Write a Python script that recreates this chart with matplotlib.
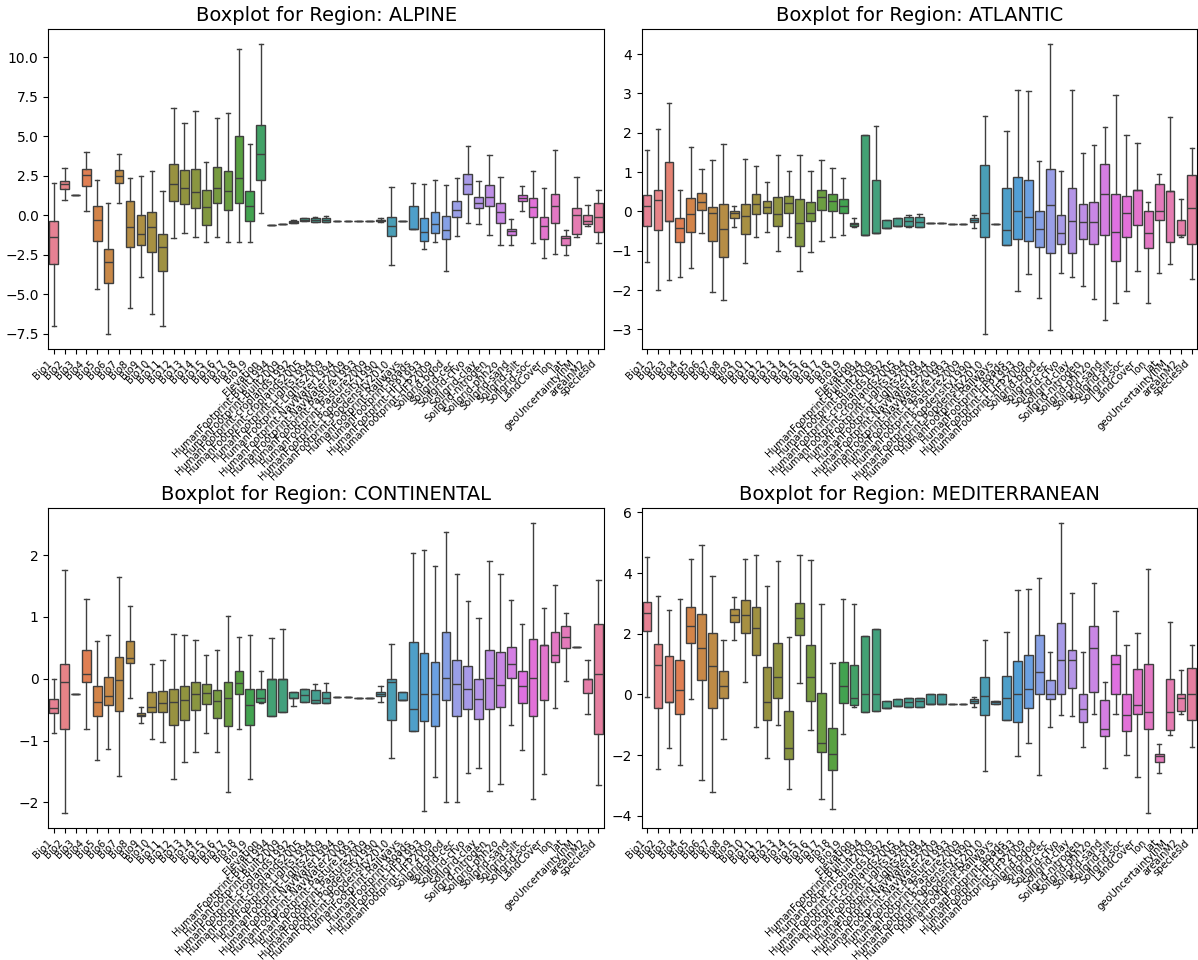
import colorsys
import matplotlib
matplotlib.use("Agg")
import matplotlib.pyplot as plt
import seaborn as sns

columns = ["Bio%d" % i for i in range(1, 20)] + [
    "Elevation",
    "HumanFootprint-Built1994", "HumanFootprint-Built2009",
    "HumanFootprint-croplands1992", "HumanFootprint-croplands2005",
    "HumanFootprint-Lights1994", "HumanFootprint-Lights2009",
    "HumanFootprint-NavWater1994", "HumanFootprint-NavWater2009",
    "HumanFootprint-Pasture1993", "HumanFootprint-Pasture2009",
    "HumanFootprint-Popdensity1990", "HumanFootprint-Popdensity2010",
    "HumanFootprint-Railways", "HumanFootprint-Roads",
    "HumanFootprint-HFP1993", "HumanFootprint-HFP2009",
    "Soilgrid-bdod", "Soilgrid-cec", "Soilgrid-cfvo", "Soilgrid-clay",
    "Soilgrid-nitrogen", "Soilgrid-phh2o", "Soilgrid-sand", "Soilgrid-silt",
    "Soilgrid-soc", "LandCover", "lon", "lat", "geoUncertaintyInM",
    "areaInM2", "speciesId",
]

# (whisker low, q1, median, q3, whisker high) per column
alpine = [
    (-7.02, -3.07, -1.40, -0.38, 2.03), (0.97, 1.65, 1.95, 2.18, 3.00),
    (1.25, 1.25, 1.25, 1.25, 1.25), (0.25, 1.86, 2.54, 2.92, 4.02),
    (-4.65, -1.63, -0.30, 0.55, 2.20), (-7.53, -4.31, -2.96, -2.16, 0.80),
    (0.76, 2.03, 2.47, 2.88, 3.89), (-5.88, -2.03, -0.76, 0.87, 2.33),
    (-3.89, -1.86, -1.18, -0.02, 2.45), (-6.28, -2.35, -0.76, 0.23, 2.79),
    (-7.02, -3.51, -2.03, -1.18, 1.56), (-1.46, 0.87, 1.97, 3.21, 6.77),
    (-1.14, 0.70, 1.69, 2.83, 5.81), (-1.40, 0.44, 1.46, 2.92, 6.60),
    (-1.69, -0.63, 0.49, 1.61, 3.34), (-1.40, 0.76, 1.71, 3.02, 6.13),
    (-1.69, 0.34, 1.50, 2.77, 6.45), (-1.69, 0.78, 2.35, 4.99, 10.51),
    (-1.69, -0.38, 0.57, 1.56, 4.52), (0.13, 2.24, 3.85, 5.73, 10.87),
    (-0.63, -0.63, -0.63, -0.63, -0.63), (-0.55, -0.55, -0.55, -0.55, -0.55),
    (-0.52, -0.47, -0.42, -0.38, -0.32), (-0.40, -0.38, -0.30, -0.21, -0.15),
    (-0.42, -0.42, -0.28, -0.17, -0.09), (-0.42, -0.42, -0.30, -0.16, -0.07),
    (-0.34, -0.34, -0.34, -0.34, -0.34), (-0.34, -0.34, -0.34, -0.34, -0.34),
    (-0.34, -0.34, -0.34, -0.34, -0.34), (-0.34, -0.34, -0.34, -0.34, -0.34),
    (-0.42, -0.36, -0.32, -0.28, -0.21), (-3.15, -1.31, -0.70, -0.09, 1.77),
    (-0.38, -0.38, -0.38, -0.38, -0.38), (-0.89, -0.89, -0.89, 0.57, 2.03),
    (-2.16, -1.61, -1.06, -0.19, 1.96), (-1.72, -1.10, -0.57, 0.23, 2.22),
    (-3.53, -1.48, -0.91, -0.07, 1.94), (-1.35, -0.11, 0.34, 0.89, 2.33),
    (-0.49, 1.35, 1.96, 2.60, 4.40), (-0.55, 0.44, 0.76, 1.14, 2.18),
    (-1.25, 0.61, 1.14, 1.90, 3.78), (-1.90, -0.47, 0.17, 0.76, 2.41),
    (-1.90, -1.25, -1.00, -0.85, -0.23), (0.29, 0.89, 1.08, 1.27, 1.84),
    (-1.75, -0.09, 0.53, 1.10, 2.81), (-2.73, -1.54, -0.66, -0.09, 1.71),
    (-2.48, -0.51, 0.57, 1.33, 4.10), (-2.54, -1.90, -1.44, -1.35, -0.97),
    (-1.37, -1.18, 0.00, 0.48, 2.39), (-0.68, -0.55, -0.36, -0.02, 0.65),
    (-1.75, -1.06, -0.11, 0.76, 1.58),
]

atlantic = [
    (-1.29, -0.37, 0.13, 0.41, 1.55), (-2.01, -0.48, 0.29, 0.55, 2.10),
    (-1.75, -0.25, -0.25, 1.25, 2.76), (-1.68, -0.78, -0.42, -0.18, 0.54),
    (-1.44, -0.53, -0.07, 0.34, 1.64), (-0.55, 0.03, 0.24, 0.46, 1.09),
    (-2.06, -0.76, -0.04, 0.11, 1.30), (-2.25, -1.16, -0.46, 0.20, 1.71),
    (-0.39, -0.16, -0.05, 0.00, 0.15), (-1.31, -0.58, -0.12, 0.19, 1.33),
    (-0.65, -0.07, 0.19, 0.43, 1.16), (-0.52, -0.04, 0.10, 0.26, 0.74),
    (-1.00, -0.36, -0.07, 0.36, 1.44), (-0.64, -0.03, 0.22, 0.39, 1.04),
    (-1.51, -0.88, -0.30, 0.31, 1.43), (-1.04, -0.25, -0.04, 0.25, 1.02),
    (-0.75, 0.03, 0.36, 0.54, 1.32), (-0.66, 0.01, 0.27, 0.44, 1.10),
    (-0.59, -0.05, 0.15, 0.31, 0.84), (-0.40, -0.37, -0.32, -0.29, -0.18),
    (-0.59, -0.59, -0.59, 1.94, 1.94), (-0.54, -0.54, -0.54, 0.81, 2.17),
    (-0.43, -0.43, -0.43, -0.21, -0.21), (-0.37, -0.37, -0.37, -0.16, -0.16),
    (-0.40, -0.38, -0.25, -0.15, -0.08), (-0.40, -0.39, -0.26, -0.15, -0.07),
    (-0.29, -0.29, -0.29, -0.29, -0.29), (-0.30, -0.30, -0.30, -0.30, -0.30),
    (-0.31, -0.31, -0.31, -0.31, -0.31), (-0.31, -0.31, -0.31, -0.31, -0.31),
    (-0.41, -0.27, -0.22, -0.18, -0.10), (-3.12, -0.65, -0.03, 1.18, 2.42),
    (-0.33, -0.33, -0.33, -0.33, -0.33), (-0.85, -0.85, -0.48, 0.59, 2.04),
    (-2.03, -0.70, 0.01, 0.87, 3.09), (-1.59, -0.76, -0.14, 0.79, 3.07),
    (-2.21, -0.90, -0.46, 0.00, 1.29), (-3.02, -1.06, 0.17, 1.08, 4.27),
    (-1.57, -0.83, -0.55, -0.10, 1.02), (-1.66, -1.06, -0.25, 0.59, 3.08),
    (-1.89, -0.69, -0.28, 0.18, 1.48), (-2.24, -0.82, -0.27, 0.25, 1.70),
    (-2.76, -0.59, 0.44, 1.21, 2.14), (-2.34, -1.25, -0.52, 0.44, 2.97),
    (-2.02, -0.65, -0.04, 0.38, 1.95), (-1.52, -0.34, 0.54, 0.54, 1.73),
    (-2.34, -0.93, -0.54, 0.02, 0.23), (-1.57, -0.22, 0.02, 0.69, 0.95),
    (-1.35, -0.78, 0.51, 0.51, 2.40), (-0.65, -0.61, -0.59, -0.22, 0.31),
    (-1.72, -0.82, 0.08, 0.93, 1.62),
]

continental = [
    (-0.88, -0.56, -0.47, -0.33, -0.01), (-2.18, -0.81, -0.05, 0.23, 1.76),
    (-0.24, -0.24, -0.24, -0.24, -0.24), (-0.82, -0.06, 0.08, 0.46, 1.29),
    (-1.32, -0.60, -0.37, -0.12, 0.61), (-1.13, -0.43, -0.28, 0.03, 0.70),
    (-1.58, -0.53, -0.02, 0.35, 1.65), (-0.31, 0.26, 0.34, 0.61, 1.18),
    (-0.71, -0.61, -0.59, -0.55, -0.46), (-0.98, -0.54, -0.45, -0.22, 0.24),
    (-1.03, -0.54, -0.40, -0.20, 0.30), (-1.62, -0.75, -0.37, -0.16, 0.72),
    (-1.35, -0.66, -0.35, -0.12, 0.71), (-1.18, -0.50, -0.24, -0.05, 0.63),
    (-0.88, -0.41, -0.23, -0.08, 0.39), (-1.18, -0.63, -0.36, -0.19, 0.47),
    (-1.83, -0.76, -0.32, -0.05, 1.01), (-0.81, -0.25, -0.07, 0.12, 0.68),
    (-1.63, -0.75, -0.42, -0.16, 0.71), (-0.40, -0.37, -0.31, -0.17, 0.12),
    (-0.61, -0.61, 0.00, 0.00, 0.66), (-0.54, -0.54, 0.00, 0.00, 0.81),
    (-0.44, -0.32, -0.32, -0.21, -0.21), (-0.37, -0.37, -0.26, -0.16, -0.16),
    (-0.40, -0.39, -0.34, -0.18, -0.08), (-0.40, -0.39, -0.32, -0.21, -0.07),
    (-0.30, -0.30, -0.30, -0.30, -0.30), (-0.30, -0.30, -0.30, -0.30, -0.30),
    (-0.32, -0.32, -0.32, -0.32, -0.32), (-0.32, -0.32, -0.32, -0.32, -0.32),
    (-0.38, -0.28, -0.24, -0.22, -0.11), (-1.28, -0.66, -0.05, 0.00, 0.56),
    (-0.34, -0.34, -0.34, -0.22, -0.22), (-0.85, -0.85, -0.49, 0.59, 2.04),
    (-2.14, -0.69, -0.25, 0.41, 2.08), (-1.59, -0.77, -0.25, 0.27, 1.82),
    (-1.99, -0.35, 0.01, 0.75, 2.38), (-1.99, -0.61, -0.08, 0.31, 1.70),
    (-1.52, -0.49, -0.17, 0.21, 1.25), (-1.44, -0.65, -0.33, 0.00, 0.99),
    (-1.82, -0.49, 0.01, 0.47, 1.91), (-1.71, -0.45, -0.10, 0.44, 1.69),
    (-0.75, 0.01, 0.23, 0.52, 1.28), (-1.16, -0.39, -0.11, 0.12, 0.88),
    (-1.95, -0.60, 0.01, 0.65, 2.52), (-1.54, -0.35, 0.54, 0.54, 1.14),
    (-0.48, 0.27, 0.39, 0.76, 1.52), (-0.04, 0.49, 0.67, 0.85, 1.07),
    (0.52, 0.52, 0.52, 0.52, 0.52), (-0.57, -0.23, 0.00, 0.00, 0.31),
    (-1.72, -0.89, 0.08, 0.88, 1.60),
]

mediterranean = [
    (-0.07, 2.09, 2.67, 3.03, 4.52), (-2.45, -0.43, 0.96, 1.66, 3.24),
    (-1.75, -0.24, -0.24, 1.26, 2.78), (-2.32, -0.64, 0.14, 1.15, 3.16),
    (-0.15, 1.68, 2.25, 2.89, 4.45), (-2.81, 0.47, 1.52, 2.65, 4.92),
    (-3.22, -0.45, 0.95, 2.02, 3.91), (-1.47, -0.12, 0.29, 0.78, 1.78),
    (1.78, 2.40, 2.62, 2.81, 3.22), (0.42, 2.01, 2.62, 3.11, 4.47),
    (-1.08, 1.29, 2.20, 2.87, 4.59), (-2.10, -0.85, -0.24, 0.92, 3.57),
    (-1.01, -0.13, 0.56, 1.68, 4.38), (-3.10, -2.12, -1.75, -0.53, 1.88),
    (0.37, 1.96, 2.52, 3.00, 4.58), (-1.16, -0.21, 0.57, 1.63, 4.43),
    (-3.45, -1.89, -1.59, 0.04, 2.98), (-3.78, -2.49, -1.97, -1.10, 1.02),
    (-1.31, -0.29, 0.27, 1.07, 3.13), (-0.41, -0.36, -0.13, 0.97, 2.98),
    (-0.58, -0.58, 0.01, 1.93, 1.93), (-0.53, -0.53, 0.01, 2.16, 2.16),
    (-0.43, -0.43, -0.43, -0.21, -0.21), (-0.37, -0.37, -0.37, -0.15, -0.15),
    (-0.42, -0.42, -0.24, -0.11, -0.11), (-0.40, -0.40, -0.22, -0.13, -0.13),
    (-0.30, -0.30, -0.30, 0.01, 0.01), (-0.30, -0.30, -0.30, 0.01, 0.01),
    (-0.32, -0.32, -0.32, -0.32, -0.32), (-0.33, -0.33, -0.33, -0.33, -0.33),
    (-0.42, -0.27, -0.22, -0.15, -0.10), (-2.52, -0.67, -0.04, 0.56, 1.81),
    (-0.32, -0.32, -0.26, -0.22, -0.22), (-0.85, -0.85, -0.12, 0.60, 2.05),
    (-2.03, -0.91, 0.01, 1.09, 3.44), (-1.59, -0.45, 0.18, 1.31, 3.48),
    (-2.65, 0.01, 0.75, 1.96, 3.82), (-1.08, -0.15, 0.01, 0.47, 1.40),
    (-0.68, 0.01, 1.13, 2.35, 5.65), (-0.70, 0.21, 1.13, 1.46, 3.33),
    (-1.73, -0.91, -0.48, 0.01, 1.40), (-0.64, 0.08, 1.53, 2.24, 3.67),
    (-2.41, -1.38, -1.15, -0.18, 0.40), (-0.65, 0.01, 1.00, 1.30, 2.76),
    (-1.99, -1.21, -0.68, 0.01, 1.63), (-2.71, -0.63, -0.34, 0.84, 2.03),
    (-3.92, -1.15, -0.59, 1.00, 4.13), (-2.59, -2.21, -2.04, -1.97, -1.62),
    (-1.35, -1.16, -0.58, 0.52, 2.40), (-0.63, -0.55, -0.11, 0.01, 0.79),
    (-1.73, -0.85, 0.01, 0.87, 1.62),
]

regions = [("ALPINE", alpine), ("ATLANTIC", atlantic),
           ("CONTINENTAL", continental), ("MEDITERRANEAN", mediterranean)]

# seaborn-like husl colours with 0.75 saturation, gray lines
colors = [sns.desaturate(c, 0.75) for c in sns.color_palette("husl", len(columns))]
lum = min(colorsys.rgb_to_hls(*c)[1] for c in colors) * 0.6
gray = (lum, lum, lum)

fig, axes = plt.subplots(2, 2, figsize=(11.98, 9.6), dpi=100)
fig.subplots_adjust(left=0.0403, right=0.9994, top=0.9698, bottom=0.1375,
                    wspace=0.068, hspace=0.5)

line = dict(color=gray, linewidth=1.0)
for ax, (name, rows) in zip(axes.flat, regions):
    stats = [dict(whislo=r[0], q1=r[1], med=r[2], q3=r[3], whishi=r[4])
             for r in rows]
    res = ax.bxp(stats, positions=range(len(columns)), widths=0.8,
                 patch_artist=True, showfliers=False,
                 boxprops=dict(edgecolor=gray, linewidth=1.0),
                 whiskerprops=line, capprops=line, medianprops=line)
    for box, c in zip(res["boxes"], colors):
        box.set_facecolor(c)
    ax.set_xlim(-0.5, len(columns) - 0.5)
    ax.set_xticks(range(len(columns)))
    ax.set_xticklabels(columns, rotation=45, ha="right", fontsize=7.2)
    ax.tick_params(axis="y", labelsize=10)
    ax.set_title("Boxplot for Region: %s" % name, fontsize=14)

fig.savefig("out.png", dpi=100)
